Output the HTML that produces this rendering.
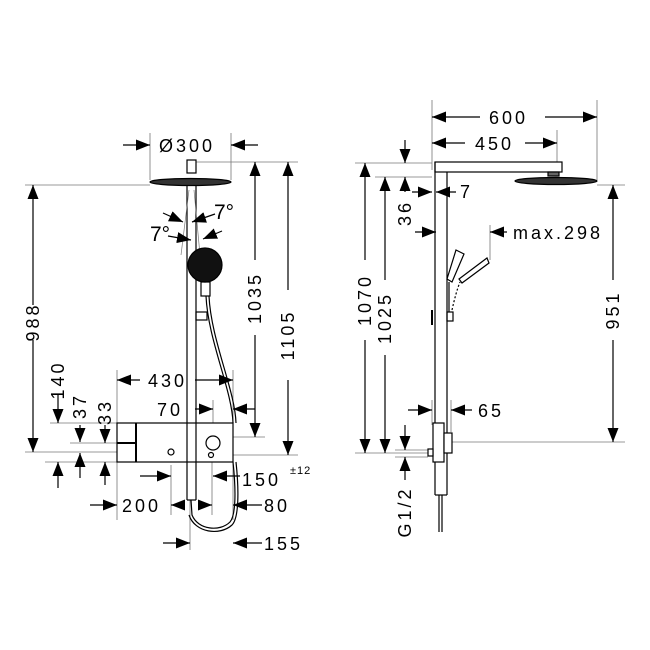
<!DOCTYPE html>
<html><head><style>
html,body{margin:0;padding:0;background:#fff;}
svg{display:block;}
text{font-family:"Liberation Sans",sans-serif;font-size:18px;letter-spacing:3px;fill:#000;}
</style></head><body>
<svg width="650" height="650" viewBox="0 0 650 650" xmlns="http://www.w3.org/2000/svg">
<defs>
<marker id="a" markerWidth="14" markerHeight="11" refX="14" refY="5.5" orient="auto" markerUnits="userSpaceOnUse">
<path d="M0,0 L14,5.5 L0,11 Z" fill="#000"/></marker>
</defs>
<g stroke="#000" stroke-width="1.2" fill="none">
<g stroke="#777" stroke-width="0.8">
<line x1="150" y1="133" x2="150" y2="180"/><line x1="231" y1="133" x2="231" y2="180"/>
<line x1="196" y1="162" x2="298" y2="162"/>
<line x1="25" y1="185" x2="150" y2="185"/>
<line x1="117" y1="370" x2="117" y2="520"/><line x1="233" y1="370" x2="233" y2="520"/>
<line x1="213" y1="400" x2="213" y2="435"/>
<line x1="233" y1="437" x2="265" y2="437"/>
<line x1="233" y1="455" x2="298" y2="455"/>
<line x1="50" y1="423" x2="117" y2="423"/>
<line x1="70" y1="443" x2="117" y2="443"/>
<line x1="25" y1="452" x2="117" y2="452"/>
<line x1="45" y1="462" x2="117" y2="462"/>
<line x1="171" y1="465" x2="171" y2="515"/>
<line x1="212" y1="455" x2="212" y2="515"/>
<line x1="190" y1="500" x2="190" y2="550"/>
<line x1="432" y1="100" x2="432" y2="170"/><line x1="597" y1="100" x2="597" y2="180"/>
<line x1="557" y1="130" x2="557" y2="165"/>
<line x1="355" y1="163" x2="432" y2="163"/><line x1="375" y1="177" x2="432" y2="177"/>
<line x1="597" y1="185" x2="625" y2="185"/>
<line x1="490" y1="225" x2="490" y2="260"/>
<line x1="447" y1="442" x2="625" y2="442"/>
<line x1="355" y1="453" x2="428" y2="453"/>
<line x1="395" y1="450" x2="428" y2="450"/><line x1="395" y1="457" x2="428" y2="457"/>
<line x1="432" y1="400" x2="432" y2="425"/><line x1="451" y1="400" x2="451" y2="432"/>
</g>
<rect x="187" y="160" width="9" height="13"/>
<ellipse cx="190.5" cy="182" rx="40.5" ry="3.5" fill="#333"/>
<line x1="187" y1="185" x2="187" y2="500"/><line x1="196" y1="185" x2="196" y2="500"/>
<line x1="187" y1="500" x2="196" y2="500"/>
<g stroke="#777" stroke-width="0.7"><line x1="189" y1="190" x2="181" y2="255"/><line x1="194" y1="190" x2="200" y2="255"/></g>
<circle cx="205" cy="265" r="17" fill="#111"/>
<rect x="201" y="282" width="9" height="14"/>
<rect x="196" y="312" width="11" height="8"/>
<path d="M206,296 C208,340 232,390 233,423"/><path d="M209,296 C211,340 235,390 236,423"/>
<path d="M233,462 C236,490 236,515 230,522 C220,532 198,530 192,515 L191,500"/>
<path d="M236,462 C239,490 239,518 232,525 C220,536 195,533 189,515"/>
<rect x="117" y="423" width="116" height="39" fill="#fff"/>
<line x1="136" y1="423" x2="136" y2="462" stroke-width="2"/>
<line x1="117" y1="443" x2="136" y2="443" stroke-width="2"/>
<line x1="187" y1="423" x2="187" y2="462"/><line x1="196" y1="423" x2="196" y2="462"/>
<circle cx="171" cy="452" r="3"/>
<circle cx="213" cy="443" r="7"/>
<circle cx="211" cy="455" r="2.5"/>
<line x1="123" y1="145" x2="150" y2="145" marker-end="url(#a)"/>
<line x1="258" y1="145" x2="231" y2="145" marker-end="url(#a)"/>
<line x1="33" y1="305" x2="33" y2="185" marker-end="url(#a)"/>
<line x1="33" y1="340" x2="33" y2="452" marker-end="url(#a)"/>
<line x1="255" y1="260" x2="255" y2="162" marker-end="url(#a)"/>
<line x1="255" y1="335" x2="255" y2="437" marker-end="url(#a)"/>
<line x1="288" y1="290" x2="288" y2="162" marker-end="url(#a)"/>
<line x1="288" y1="380" x2="288" y2="455" marker-end="url(#a)"/>
<line x1="140" y1="380" x2="117" y2="380" marker-end="url(#a)"/>
<line x1="195" y1="380" x2="233" y2="380" marker-end="url(#a)"/>
<line x1="195" y1="409" x2="213" y2="409" marker-end="url(#a)"/>
<line x1="255" y1="409" x2="233" y2="409" marker-end="url(#a)"/>
<line x1="58" y1="395" x2="58" y2="423" marker-end="url(#a)"/>
<line x1="58" y1="488" x2="58" y2="462" marker-end="url(#a)"/>
<line x1="80" y1="425" x2="80" y2="442" marker-end="url(#a)"/>
<line x1="80" y1="478" x2="80" y2="453" marker-end="url(#a)"/>
<line x1="105" y1="425" x2="105" y2="443" marker-end="url(#a)"/>
<line x1="105" y1="485" x2="105" y2="462" marker-end="url(#a)"/>
<line x1="140" y1="476" x2="171" y2="476" marker-end="url(#a)"/>
<line x1="240" y1="476" x2="213" y2="476" marker-end="url(#a)"/>
<line x1="90" y1="505" x2="117" y2="505" marker-end="url(#a)"/>
<line x1="185" y1="505" x2="171" y2="505" marker-end="url(#a)"/>
<line x1="198" y1="505" x2="212" y2="505" marker-end="url(#a)"/>
<line x1="262" y1="505" x2="233" y2="505" marker-end="url(#a)"/>
<line x1="163" y1="543" x2="190" y2="543" marker-end="url(#a)"/>
<line x1="262" y1="543" x2="233" y2="543" marker-end="url(#a)"/>
<line x1="163" y1="213" x2="183" y2="222" marker-end="url(#a)"/>
<line x1="215" y1="214" x2="192" y2="222" marker-end="url(#a)"/>
<line x1="168" y1="236" x2="191" y2="240" marker-end="url(#a)"/>
<line x1="222" y1="231" x2="203" y2="239" marker-end="url(#a)"/>
<rect x="435" y="162" width="127" height="10" fill="#fff"/>
<line x1="435" y1="162" x2="435" y2="495"/><line x1="447" y1="172" x2="447" y2="495"/>
<line x1="435" y1="495" x2="447" y2="495"/>
<rect x="548" y="172" width="11" height="4" fill="#666"/>
<ellipse cx="556" cy="181" rx="41" ry="3.5" fill="#333"/>
<path d="M439,495 L439,532 M442,495 L442,532"/>
<rect x="433" y="423" width="11" height="39" fill="#fff"/>
<rect x="444" y="433" width="8" height="20" fill="#fff"/>
<rect x="428" y="449" width="5" height="7" fill="#fff"/>
<line x1="432" y1="310" x2="432" y2="325" stroke-width="2"/>
<g stroke-width="1.2">
<path d="M456,250 L464,254 L452,282 L447,279 Z"/>
<path d="M487,258 L489,263 L462,283 L459,279 Z"/>
<line x1="449" y1="282" x2="449" y2="312"/>
<rect x="447" y="312" width="6" height="9"/>
<path d="M452,310 Q456,292 460,282" stroke-dasharray="2,2"/>
</g>
<line x1="480" y1="117" x2="432" y2="117" marker-end="url(#a)"/>
<line x1="545" y1="117" x2="597" y2="117" marker-end="url(#a)"/>
<line x1="465" y1="143" x2="432" y2="143" marker-end="url(#a)"/>
<line x1="525" y1="143" x2="557" y2="143" marker-end="url(#a)"/>
<line x1="365" y1="260" x2="365" y2="163" marker-end="url(#a)"/>
<line x1="365" y1="340" x2="365" y2="453" marker-end="url(#a)"/>
<line x1="385" y1="280" x2="385" y2="177" marker-end="url(#a)"/>
<line x1="385" y1="355" x2="385" y2="453" marker-end="url(#a)"/>
<line x1="405" y1="140" x2="405" y2="163" marker-end="url(#a)"/>
<line x1="405" y1="192" x2="405" y2="177" marker-end="url(#a)"/>
<line x1="412" y1="192" x2="432" y2="192" marker-end="url(#a)"/>
<line x1="456" y1="192" x2="436" y2="192" marker-end="url(#a)"/>
<line x1="415" y1="232" x2="436" y2="232" marker-end="url(#a)"/>
<line x1="507" y1="232" x2="490" y2="232" marker-end="url(#a)"/>
<line x1="613" y1="280" x2="613" y2="185" marker-end="url(#a)"/>
<line x1="613" y1="340" x2="613" y2="442" marker-end="url(#a)"/>
<line x1="408" y1="410" x2="432" y2="410" marker-end="url(#a)"/>
<line x1="472" y1="410" x2="451" y2="410" marker-end="url(#a)"/>
<line x1="405" y1="425" x2="405" y2="450" marker-end="url(#a)"/>
<line x1="405" y1="480" x2="405" y2="457" marker-end="url(#a)"/>
</g>
<text x="159" y="152">Ø300</text>
<text x="148" y="387">430</text>
<text x="157" y="416">70</text>
<text x="242" y="486">150</text>
<text x="290" y="474" style="font-size:11px;letter-spacing:1px">±12</text>
<text x="122" y="512">200</text>
<text x="264" y="512">80</text>
<text x="264" y="550">155</text>
<text x="214" y="219" style="letter-spacing:0;font-size:21px">7°</text>
<text x="150" y="241" style="letter-spacing:0;font-size:21px">7°</text>
<text transform="translate(39,322) rotate(-90)" text-anchor="middle">988</text>
<text transform="translate(261,298) rotate(-90)" text-anchor="middle">1035</text>
<text transform="translate(294,335) rotate(-90)" text-anchor="middle">1105</text>
<text transform="translate(64,380) rotate(-90)" text-anchor="middle">140</text>
<text transform="translate(86,406) rotate(-90)" text-anchor="middle">37</text>
<text transform="translate(111,412) rotate(-90)" text-anchor="middle">33</text>
<text x="489" y="124">600</text>
<text x="475" y="150">450</text>
<text x="460" y="198">7</text>
<text x="513" y="239">max.298</text>
<text x="478" y="417">65</text>
<text transform="translate(371,300) rotate(-90)" text-anchor="middle">1070</text>
<text transform="translate(391,318) rotate(-90)" text-anchor="middle">1025</text>
<text transform="translate(411,213) rotate(-90)" text-anchor="middle">36</text>
<text transform="translate(619,310) rotate(-90)" text-anchor="middle">951</text>
<text transform="translate(411,512) rotate(-90)" text-anchor="middle">G1/2</text>
</svg>
</body></html>
